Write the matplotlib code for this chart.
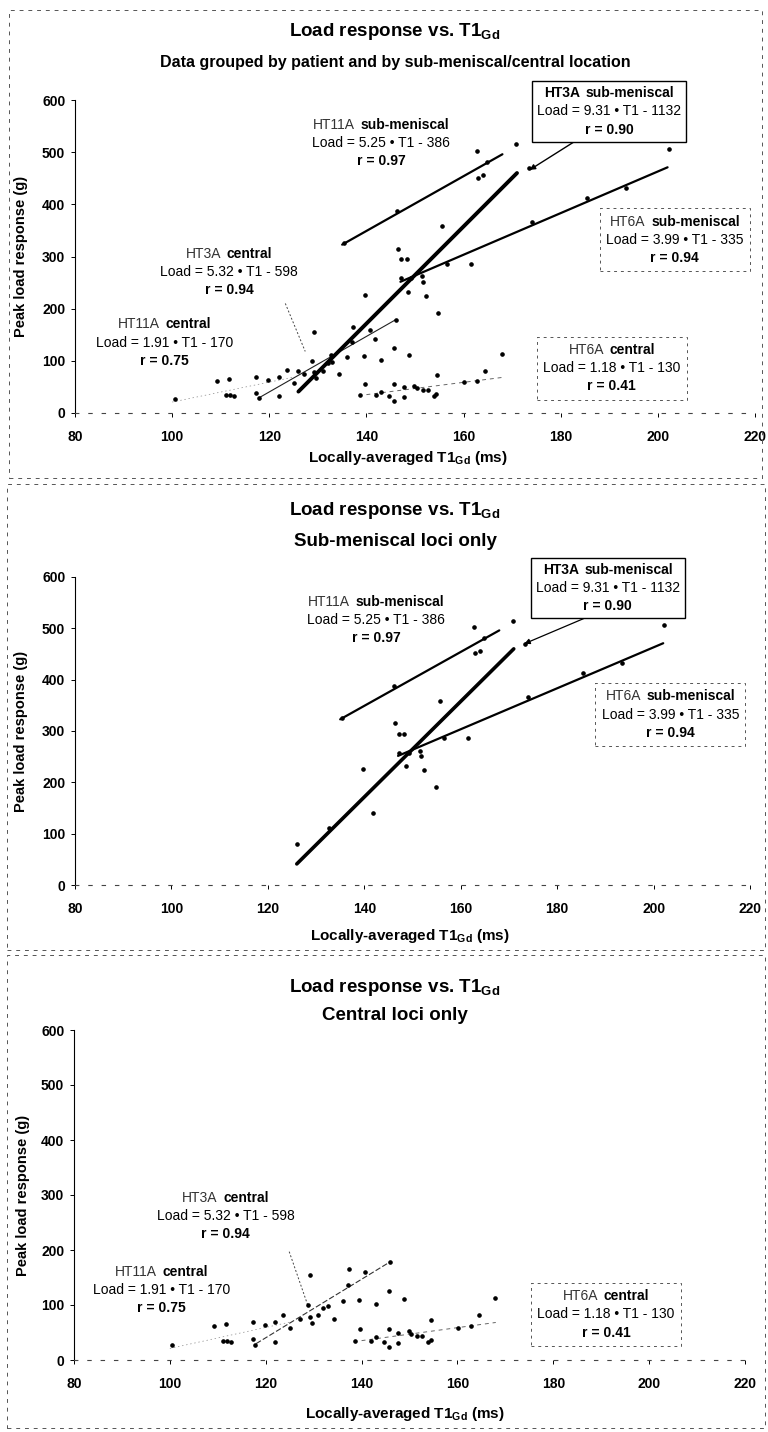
import matplotlib
matplotlib.use("Agg")
import matplotlib.pyplot as plt
import numpy as np
from matplotlib.offsetbox import TextArea, HPacker, VPacker, AnnotationBbox
from matplotlib.patches import Rectangle

plt.rcParams['font.family'] = ['Liberation Sans', 'DejaVu Sans']
plt.rcParams['mathtext.fontset'] = 'custom'
plt.rcParams['mathtext.rm'] = 'Liberation Sans'
plt.rcParams['mathtext.bf'] = 'Liberation Sans:bold'

# ---- measured loci: sub-meniscal ----
sub_t1 = [126.0, 132.7, 141.8, 139.8, 148.6, 152.3, 154.8, 151.5, 151.7, 149.2,
          147.1, 156.6, 161.6, 146.4, 147.1, 148.3, 155.6, 135.3, 146.2, 162.8,
          164.9, 163.0, 164.0, 170.8, 173.4, 174.0, 185.4, 193.4, 202.2]
sub_load = [80, 112, 141, 226, 232, 225, 191, 262, 251, 258,
            258, 286, 286, 315, 295, 295, 359, 325, 388, 503,
            482, 451, 456, 515, 469, 366, 413, 432, 506]

# ---- measured loci: central ----
cen_t1 = [100.5, 109.2, 111.8, 111.1, 112.0, 112.8, 117.3, 117.3, 117.8, 119.8,
          122.0, 122.0, 123.7, 125.0, 127.2, 129.2, 128.8, 129.3, 129.6, 131.0,
          132.0, 133.0, 134.3, 136.1, 137.1, 137.3, 139.5, 139.7, 138.6, 140.7,
          142.0, 143.0, 143.0, 144.7, 145.7, 145.7, 146.0, 145.7, 147.7, 147.7,
          148.8, 149.8, 150.4, 151.6, 152.6, 153.9, 154.4, 154.5, 160.1, 162.8,
          164.4, 167.9]
cen_load = [27, 61, 65, 35, 34, 33, 69, 38, 28, 64,
            69, 33, 82, 58, 75, 155, 100, 78, 68, 81,
            95, 98, 75, 107, 136, 165, 109, 56, 35, 160,
            35, 41, 102, 33, 125, 56, 179, 23, 50, 31,
            111, 52, 47, 44, 44, 33, 37, 73, 59, 61,
            81, 113]

# ---- regression fits per patient / location ----
fit_patient = ["HT11A", "HT3A", "HT6A", "HT11A", "HT3A", "HT6A"]
fit_region = ["sub-meniscal", "sub-meniscal", "sub-meniscal", "central", "central", "central"]
fit_slope = [5.25, 9.31, 3.99, 1.91, 5.32, 1.18]
fit_icpt = [-386, -1132, -335, -170, -598, -130]
fit_r = [0.97, 0.90, 0.94, 0.75, 0.94, 0.41]
fit_lo = [135, 126, 147, 100, 118, 140]
fit_hi = [168, 171, 202, 125, 146, 168]

x_ticks = [80, 100, 120, 140, 160, 180, 200, 220]
y_ticks = [0, 100, 200, 300, 400, 500, 600]

W, H = 768, 1432
fig = plt.figure(figsize=(W / 100, H / 100), dpi=100)


def px_axes(x0, x1, y0, y1):
    return fig.add_axes([x0 / W, 1 - y1 / H, (x1 - x0) / W, (y1 - y0) / H])


def style_axes(ax, xlab_pos, ylab_x):
    ax.set_xlim(80, 220)
    ax.set_ylim(0, 600)
    ax.set_xticks(x_ticks)
    ax.set_yticks(y_ticks)
    ax.spines['top'].set_visible(False)
    ax.spines['right'].set_visible(False)
    ax.spines['left'].set_linewidth(0.8)
    ax.spines['bottom'].set_linewidth(0.8)
    ax.spines['bottom'].set_linestyle((0, (3, 9)))
    ax.spines['bottom'].set_color('#444444')
    ax.tick_params(axis='both', labelsize=10, length=3, width=0.7)
    ax.tick_params(axis='x', pad=9)
    ax.tick_params(axis='y', pad=4)
    for lab in ax.get_xticklabels() + ax.get_yticklabels():
        lab.set_fontweight('bold')
    ax.set_xlabel(r"Locally-averaged T1$_{\mathbf{Gd}}$ (ms)", fontsize=11, fontweight='bold')
    ax.set_ylabel("Peak load response (g)", fontsize=10.5, fontweight='bold')
    ax.xaxis.set_label_coords(*xlab_pos)
    ax.yaxis.set_label_coords(ylab_x, 0.5)
    ax.set_facecolor('none')


def draw_fit(ax, k, **kw):
    xs = np.array([fit_lo[k], fit_hi[k]], dtype=float)
    ax.plot(xs, fit_slope[k] * xs + fit_icpt[k], solid_capstyle='round', **kw)


def fit_label(ax, k, x, y, frame=None, id_bold=False):
    fs = 10
    head = HPacker(children=[
        TextArea(fit_patient[k], textprops=dict(fontsize=fs, fontweight='bold' if id_bold else 'normal',
                                                color='black' if id_bold else '#333333')),
        TextArea(fit_region[k], textprops=dict(fontsize=fs, fontweight='bold'))],
        sep=4, pad=0, align='baseline')
    eq = TextArea(f"Load = {fit_slope[k]:.2f} \u2022 T1 - {abs(fit_icpt[k]):.0f}",
                  textprops=dict(fontsize=fs))
    rr = TextArea(f"r = {fit_r[k]:.2f}", textprops=dict(fontsize=fs, fontweight='bold'))
    pack = VPacker(children=[head, eq, rr], sep=3, pad=1, align='center')
    if frame == 'solid':
        props = dict(boxstyle='square,pad=0.25', edgecolor='black', linewidth=1.0, facecolor='white')
    elif frame == 'dashed':
        props = dict(boxstyle='square,pad=0.35', edgecolor='#555555', linewidth=0.7,
                     linestyle=(0, (3, 4)), facecolor='none')
    else:
        props = None
    ab = AnnotationBbox(pack, (x, y), xycoords='data', frameon=frame is not None,
                        box_alignment=(0.5, 0.5), annotation_clip=False, bboxprops=props)
    ab.set_zorder(5)
    ax.add_artist(ab)


def title(py, text, size):
    fig.text(395 / W, 1 - py / H, text, ha='center', va='center', fontsize=size, fontweight='bold')


def border(x0, y0, x1, y1):
    fig.add_artist(Rectangle((x0 / W, 1 - y1 / H), (x1 - x0) / W, (y1 - y0) / H,
                             transform=fig.transFigure, fill=False, linewidth=0.7,
                             edgecolor='#555555', linestyle=(0, (4, 5))))


t1sub = r"T1$_{\mathbf{Gd}}$"
MS = 2.3

# panel frames
border(9, 10, 762, 478)
border(7, 484, 765, 950)
border(7, 955, 765, 1428)

# ---------------- panel 1: all loci ----------------
ax1 = px_axes(75, 755, 100, 413)
style_axes(ax1, (0.49, -0.115), -0.069)
title(32, "Load response vs. " + t1sub, 13.5)
title(63, "Data grouped by patient and by sub-meniscal/central location", 11.5)
ax1.plot(sub_t1, sub_load, 'o', ms=MS, color='black', ls='none', zorder=3)
ax1.plot(cen_t1, cen_load, 'o', ms=MS, color='black', ls='none', zorder=3)
draw_fit(ax1, 0, color='black', lw=1.6, zorder=4)
draw_fit(ax1, 1, color='black', lw=2.8, zorder=4)
draw_fit(ax1, 2, color='black', lw=1.6, zorder=4)
draw_fit(ax1, 3, color='#888888', lw=0.5, ls=(0, (2, 4)), zorder=2)
draw_fit(ax1, 4, color='#222222', lw=0.8, zorder=2)
draw_fit(ax1, 5, color='#666666', lw=0.7, ls=(0, (4, 4)), zorder=2)
fit_label(ax1, 0, 143, 517)
fit_label(ax1, 1, 190, 578, frame='solid', id_bold=True)
fit_label(ax1, 2, 203.5, 332, frame='dashed')
fit_label(ax1, 3, 98.5, 135)
fit_label(ax1, 4, 111.7, 270)
fit_label(ax1, 5, 190.5, 86, frame='dashed')
ax1.annotate("", xy=(173.6, 466), xytext=(185, 533), annotation_clip=False,
             arrowprops=dict(arrowstyle='-|>', color='black', lw=1.0, mutation_scale=8, shrinkA=0, shrinkB=0))
ax1.plot([123.3, 127.4], [210, 118], color='#444444', lw=0.7, ls=(0, (2, 2)))

# ---------------- panel 2: sub-meniscal loci ----------------
ax2 = px_axes(75, 750, 577, 885)
style_axes(ax2, (0.496, -0.135), -0.069)
title(510, "Load response vs. " + t1sub, 13.5)
title(541, "Sub-meniscal loci only", 13.5)
ax2.plot(sub_t1, sub_load, 'o', ms=MS, color='black', ls='none', zorder=3)
draw_fit(ax2, 0, color='black', lw=1.6, zorder=4)
draw_fit(ax2, 1, color='black', lw=2.6, zorder=4)
draw_fit(ax2, 2, color='black', lw=1.6, zorder=4)
fit_label(ax2, 0, 142.5, 516)
fit_label(ax2, 1, 190.5, 578, frame='solid', id_bold=True)
fit_label(ax2, 2, 203.5, 332, frame='dashed')
ax2.annotate("", xy=(173.2, 470), xytext=(185.5, 519), annotation_clip=False,
             arrowprops=dict(arrowstyle='-|>', color='black', lw=0.9, mutation_scale=8, shrinkA=0, shrinkB=0))

# ---------------- panel 3: central loci ----------------
ax3 = px_axes(74, 745, 1030, 1360)
style_axes(ax3, (0.493, -0.135), -0.066)
title(987, "Load response vs. " + t1sub, 13.5)
title(1016, "Central loci only", 13.5)
ax3.plot(cen_t1, cen_load, 'o', ms=MS, color='black', ls='none', zorder=3)
draw_fit(ax3, 3, color='#888888', lw=0.5, ls=(0, (2, 4)), zorder=2)
draw_fit(ax3, 4, color='#333333', lw=0.8, ls=(0, (5, 2)), zorder=2)
draw_fit(ax3, 5, color='#666666', lw=0.7, ls=(0, (4, 4)), zorder=2)
fit_label(ax3, 3, 98.3, 127)
fit_label(ax3, 4, 111.6, 262)
fit_label(ax3, 5, 191, 83, frame='dashed')
ax3.plot([124.9, 128.8], [197, 99], color='#444444', lw=0.7, ls=(0, (2, 2)))

fig.savefig("out.png", dpi=100)
